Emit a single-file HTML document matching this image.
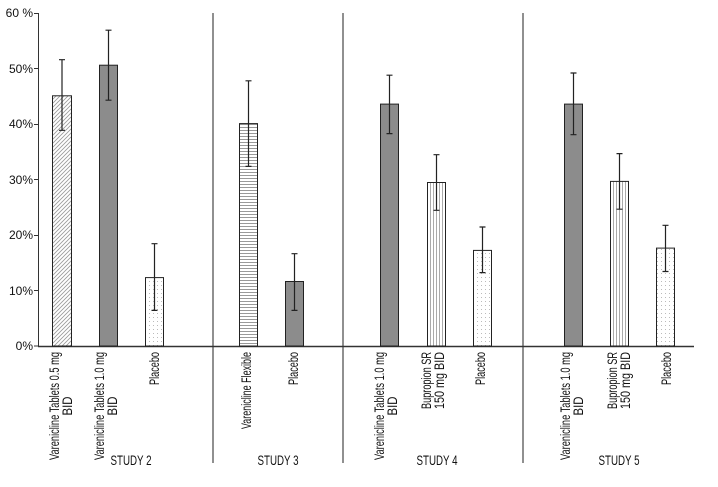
<!DOCTYPE html>
<html><head><style>body{margin:0;background:#fff}svg{display:block}</style></head><body>
<svg width="718" height="487" viewBox="0 0 718 487" xmlns="http://www.w3.org/2000/svg" font-family="Liberation Sans, Arial, sans-serif">
<defs>
<pattern id="diag" width="4" height="4" patternUnits="userSpaceOnUse"><rect width="4" height="4" fill="#fff"/><path d="M0,4 L4,0 M-1,1 L1,-1 M3,5 L5,3" stroke="#999" stroke-width="0.8"/></pattern>
<pattern id="dots" width="4" height="4" patternUnits="userSpaceOnUse"><rect width="4" height="4" fill="#fff"/><rect x="1" y="1" width="1" height="1" fill="#bbb"/></pattern>
<pattern id="hor" width="4" height="3" patternUnits="userSpaceOnUse"><rect width="4" height="3" fill="#fff"/><rect y="1" width="4" height="1" fill="#999"/></pattern>
<pattern id="ver" width="3" height="4" patternUnits="userSpaceOnUse"><rect width="3" height="4" fill="#fff"/><rect x="1" width="1" height="4" fill="#aaa"/></pattern>
</defs>
<g font-size="12" fill="#111" text-anchor="end">
<text x="33" y="17">60 %</text><text x="33" y="73">50%</text><text x="33" y="128">40%</text><text x="33" y="184">30%</text><text x="33" y="239">20%</text><text x="33" y="295">10%</text><text x="33" y="350">0%</text>
</g>
<g stroke="#333" stroke-width="1">
<line x1="38.5" y1="13" x2="38.5" y2="346"/>
<line x1="34" y1="13.5" x2="38" y2="13.5"/><line x1="34" y1="68.5" x2="38" y2="68.5"/><line x1="34" y1="124.5" x2="38" y2="124.5"/><line x1="34" y1="179.5" x2="38" y2="179.5"/><line x1="34" y1="235.5" x2="38" y2="235.5"/><line x1="34" y1="290.5" x2="38" y2="290.5"/><line x1="34" y1="346" x2="38" y2="346"/>
</g>
<g stroke="#555" stroke-width="1.3">
<line x1="213" y1="13" x2="213" y2="463"/><line x1="343" y1="13" x2="343" y2="463"/><line x1="523" y1="13" x2="523" y2="463"/>
</g>
<line x1="38" y1="346.5" x2="694" y2="346.5" stroke="#333" stroke-width="1.5"/>
<g stroke="#222" stroke-width="1">
<rect x="52.5" y="95.8" width="19" height="250.2" fill="url(#diag)"/>
<rect x="99.5" y="65.2" width="18" height="280.8" fill="#8c8c8c"/>
<rect x="145.5" y="277.6" width="18" height="68.4" fill="url(#dots)"/>
<rect x="239.5" y="123.6" width="18" height="222.4" fill="url(#hor)"/>
<rect x="285.5" y="281.5" width="18" height="64.5" fill="#8c8c8c"/>
<rect x="380.5" y="104.1" width="18" height="241.9" fill="#8c8c8c"/>
<rect x="427.5" y="182.5" width="18" height="163.5" fill="url(#ver)"/>
<rect x="473.5" y="250.4" width="18" height="95.6" fill="url(#dots)"/>
<rect x="564.5" y="104.1" width="18" height="241.9" fill="#8c8c8c"/>
<rect x="610.5" y="181.4" width="18" height="164.6" fill="url(#ver)"/>
<rect x="656.5" y="248.1" width="18" height="97.9" fill="url(#dots)"/>
</g>
<g stroke="#222" stroke-width="1.2">
<path d="M62,59.7V130.3M59,59.7H65M59,130.3H65"/>
<path d="M108.5,30.2V100.2M105.5,30.2H111.5M105.5,100.2H111.5"/>
<path d="M154.5,243.7V310.4M151.5,243.7H157.5M151.5,310.4H157.5"/>
<path d="M248.5,80.8V166.4M245.5,80.8H251.5M245.5,166.4H251.5"/>
<path d="M294.5,253.7V310.4M291.5,253.7H297.5M291.5,310.4H297.5"/>
<path d="M389.5,75.2V133.6M386.5,75.2H392.5M386.5,133.6H392.5"/>
<path d="M436.5,154.7V210.3M433.5,154.7H439.5M433.5,210.3H439.5"/>
<path d="M482.5,227V272.6M479.5,227H485.5M479.5,272.6H485.5"/>
<path d="M573.5,73V134.7M570.5,73H576.5M570.5,134.7H576.5"/>
<path d="M619.5,153.6V209.2M616.5,153.6H622.5M616.5,209.2H622.5"/>
<path d="M665.5,225.3V271.5M662.5,225.3H668.5M662.5,271.5H668.5"/>
</g>
<g font-size="13.5" fill="#111">
<text transform="translate(59,352) rotate(-90)" text-anchor="end" textLength="108" lengthAdjust="spacingAndGlyphs">Varenicline Tablets 0.5 mg</text>
<text transform="translate(72,406) rotate(-90)" text-anchor="middle" textLength="19" lengthAdjust="spacingAndGlyphs">BID</text>
<text transform="translate(104,352) rotate(-90)" text-anchor="end" textLength="108" lengthAdjust="spacingAndGlyphs">Varenicline Tablets 1.0 mg</text>
<text transform="translate(117,406) rotate(-90)" text-anchor="middle" textLength="19" lengthAdjust="spacingAndGlyphs">BID</text>
<text transform="translate(159,352) rotate(-90)" text-anchor="end" textLength="33" lengthAdjust="spacingAndGlyphs">Placebo</text>
<text transform="translate(251,352) rotate(-90)" text-anchor="end" textLength="77" lengthAdjust="spacingAndGlyphs">Varenicline Flexible</text>
<text transform="translate(298,352) rotate(-90)" text-anchor="end" textLength="33" lengthAdjust="spacingAndGlyphs">Placebo</text>
<text transform="translate(384,352) rotate(-90)" text-anchor="end" textLength="108" lengthAdjust="spacingAndGlyphs">Varenicline Tablets 1.0 mg</text>
<text transform="translate(397,406) rotate(-90)" text-anchor="middle" textLength="19" lengthAdjust="spacingAndGlyphs">BID</text>
<text transform="translate(431,352) rotate(-90)" text-anchor="end" textLength="57" lengthAdjust="spacingAndGlyphs">Bupropion SR</text>
<text transform="translate(444,352) rotate(-90)" text-anchor="end" textLength="57" lengthAdjust="spacingAndGlyphs">150 mg BID</text>
<text transform="translate(485,352) rotate(-90)" text-anchor="end" textLength="33" lengthAdjust="spacingAndGlyphs">Placebo</text>
<text transform="translate(570,352) rotate(-90)" text-anchor="end" textLength="108" lengthAdjust="spacingAndGlyphs">Varenicline Tablets 1.0 mg</text>
<text transform="translate(583,406) rotate(-90)" text-anchor="middle" textLength="19" lengthAdjust="spacingAndGlyphs">BID</text>
<text transform="translate(617,352) rotate(-90)" text-anchor="end" textLength="57" lengthAdjust="spacingAndGlyphs">Bupropion SR</text>
<text transform="translate(630,352) rotate(-90)" text-anchor="end" textLength="57" lengthAdjust="spacingAndGlyphs">150 mg BID</text>
<text transform="translate(671,352) rotate(-90)" text-anchor="end" textLength="33" lengthAdjust="spacingAndGlyphs">Placebo</text>
</g>
<g font-size="14" fill="#111" text-anchor="middle">
<text x="131" y="465" textLength="41" lengthAdjust="spacingAndGlyphs">STUDY 2</text>
<text x="278" y="465" textLength="41" lengthAdjust="spacingAndGlyphs">STUDY 3</text>
<text x="437" y="465" textLength="41" lengthAdjust="spacingAndGlyphs">STUDY 4</text>
<text x="619" y="465" textLength="41" lengthAdjust="spacingAndGlyphs">STUDY 5</text>
</g>
</svg>
</body></html>
